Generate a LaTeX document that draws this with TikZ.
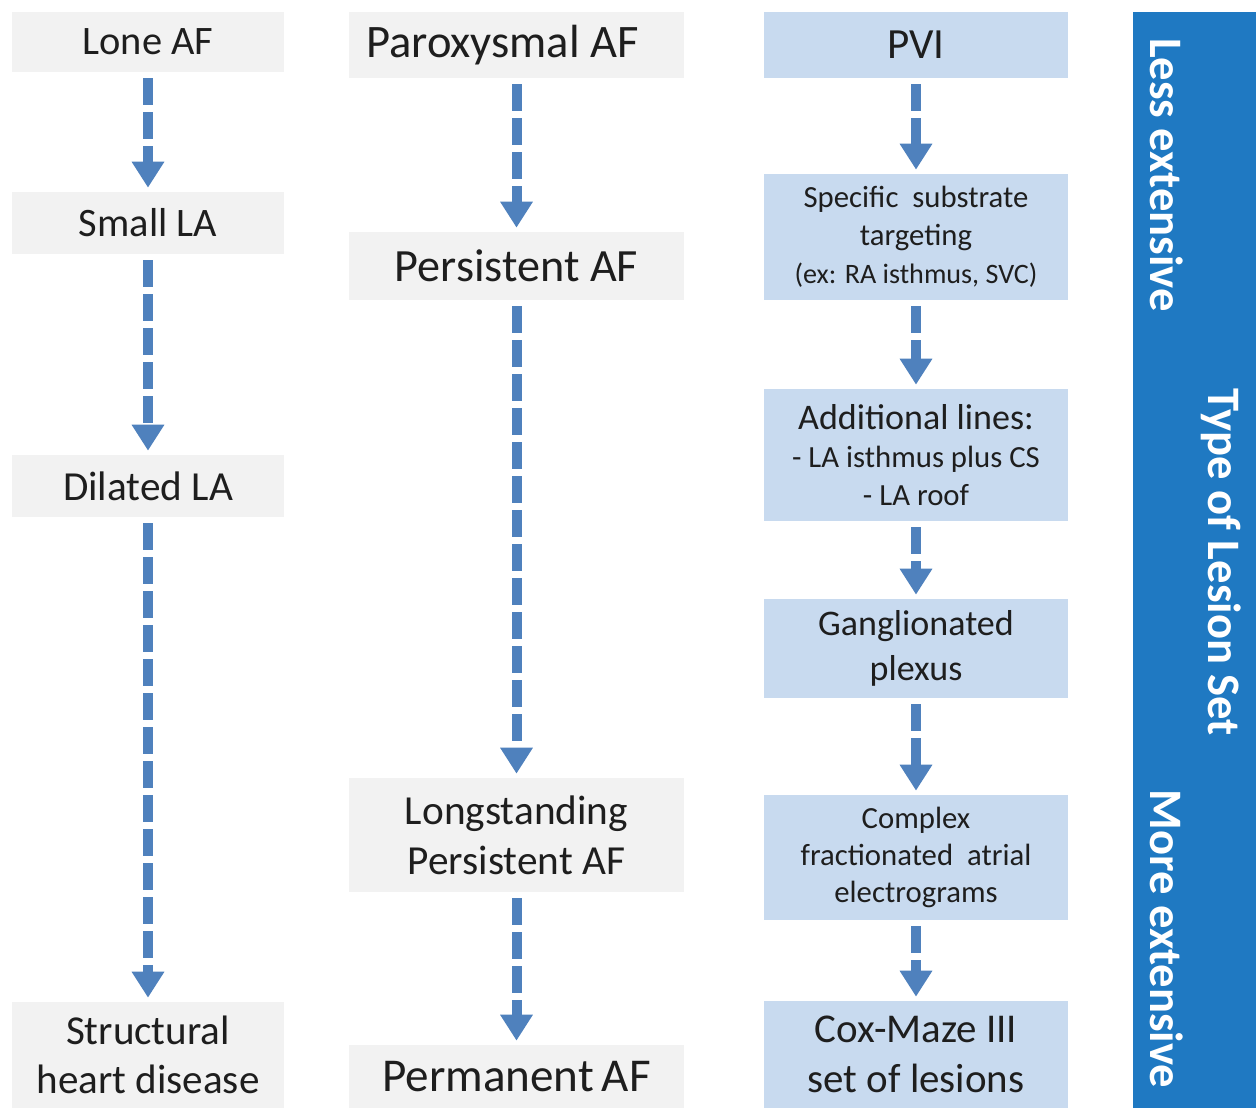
\documentclass[tikz,border=0pt]{standalone}
\usepackage{fontspec}
\setmainfont{Carlito}
\usetikzlibrary{arrows.meta}
\definecolor{grayfill}{HTML}{F2F2F2}
\definecolor{bluefill}{HTML}{C8DAEF}
\definecolor{arrowblue}{HTML}{4F81BD}
\definecolor{barblue}{HTML}{1F79C2}
\definecolor{txt}{HTML}{1E1E1E}
\tikzset{
  graybox/.style={fill=grayfill, draw=none, align=center, text=txt, inner sep=0pt, minimum width=5.44cm},
  midbox/.style={fill=grayfill, draw=none, align=center, text=txt, inner sep=0pt, minimum width=6.7cm},
  bluebox/.style={fill=bluefill, draw=none, align=center, text=txt, inner sep=0pt, minimum width=6.08cm},
  flow/.style={draw=arrowblue, line width=0.2cm, dash pattern=on 0.54cm off 0.14cm,
    -{Triangle[width=0.62cm,length=0.52cm]}, shorten <=0.12cm, shorten >=0.08cm},
  sidetxt/.style={text=white, font=\bfseries\fontsize{26.5}{32}\selectfont, rotate=-90, inner sep=0pt}
}
\begin{document}
\begin{tikzpicture}[x=0.02cm,y=-0.02cm]
\path[use as bounding box, fill=white] (0,0) rectangle (1256,1108);
% column 1
\node[graybox, minimum height=1.2cm, font=\fontsize{23}{28}\selectfont] (lone) at (148,42) {Lone AF};
\node[graybox, minimum height=1.24cm, font=\fontsize{23}{28}\selectfont] (small) at (148,223) {Small LA};
\node[graybox, minimum height=1.24cm, font=\fontsize{23.5}{28}\selectfont] (dilated) at (148,486) {Dilated LA};
\node[graybox, minimum height=2.12cm, font=\fontsize{23.4}{27.9}\selectfont] (struct) at (148,1055) {Structural\\heart disease};
% column 2
\node[midbox, minimum height=1.32cm, font=\fontsize{26.5}{30}\selectfont] (parox) at (516.5,45) {Paroxysmal AF\hspace*{0.56cm}};
\node[midbox, minimum height=1.36cm, font=\fontsize{26.3}{30}\selectfont] (persist) at (516.5,266) {Persistent AF};
\node[midbox, minimum height=2.28cm, font=\fontsize{23.5}{28.4}\selectfont] (longst) at (516.5,835) {Longstanding\\Persistent AF};
\node[midbox, minimum height=1.26cm, font=\fontsize{26.8}{30}\selectfont] (perm) at (516.5,1076.5) {Permanent\,AF};
% column 3
\node[bluebox, minimum height=1.32cm, font=\fontsize{24.5}{30}\selectfont] (pvi) at (916,45) {PVI};
\node[bluebox, minimum height=2.52cm, font=\fontsize{17.5}{21.6}\selectfont] (spec) at (916,237) {Specific\ \ substrate\\targeting\\{\fontsize{16}{21.6}\selectfont (ex: RA isthmus, SVC)}};
\node[bluebox, minimum height=2.64cm, font=\fontsize{20.5}{21.6}\selectfont] (add) at (916,455) {Additional lines:\\{\fontsize{17.5}{21.6}\selectfont - LA isthmus plus CS}\\{\fontsize{17.5}{21.6}\selectfont - LA roof}};
\node[bluebox, minimum height=1.98cm, font=\fontsize{20.5}{25.6}\selectfont] (gang) at (916,648.5) {Ganglionated\\plexus};
\node[bluebox, minimum height=2.5cm, font=\fontsize{17.5}{21.2}\selectfont] (cfae) at (916,857.5) {Complex\\fractionated\ \ atrial\\electrograms};
\node[bluebox, minimum height=2.14cm, font=\fontsize{23.3}{28.4}\selectfont] (cox) at (916,1054.5) {Cox-Maze III\\set of lesions};
% side bar
\node[fill=barblue, draw=none, inner sep=0pt, minimum width=2.46cm, minimum height=21.92cm] (bar) at (1194.5,560) {};
\node[sidetxt] (less) at (1167,175) {Less extensive};
\node[sidetxt] (type) at (1221,562) {Type of Lesion Set};
\node[sidetxt] (more) at (1167,939) {More extensive};
% arrows
\draw[flow] (lone) -- (small);
\draw[flow] (small) -- (dilated);
\draw[flow] (dilated) -- (struct);
\draw[flow] (parox) -- (persist);
\draw[flow] (persist) -- (longst);
\draw[flow] (longst) -- (perm);
\draw[flow] (pvi) -- (spec);
\draw[flow] (spec) -- (add);
\draw[flow] (add) -- (gang);
\draw[flow] (gang) -- (cfae);
\draw[flow] (cfae) -- (cox);
\end{tikzpicture}
\end{document}
